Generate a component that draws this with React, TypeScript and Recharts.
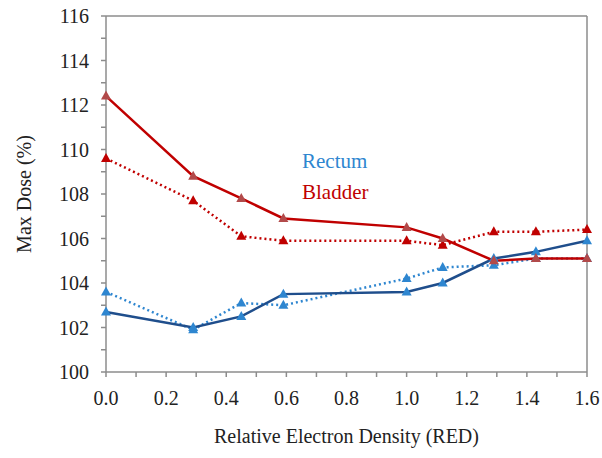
import { LineChart, Line, XAxis, YAxis, ReferenceLine, Label } from "recharts";

// relative electron density of each test insert
const redValues = [0, 0.29, 0.45, 0.59, 1.0, 1.12, 1.29, 1.43, 1.6];
const bladderSolid = [112.4, 108.8, 107.8, 106.9, 106.5, 106.0, 105.0, 105.1, 105.1];
const bladderDotted = [109.6, 107.7, 106.1, 105.9, 105.9, 105.7, 106.3, 106.3, 106.4];
const rectumSolid = [102.7, 102.0, 102.5, 103.5, 103.6, 104.0, 105.1, 105.4, 105.9];
const rectumDotted = [103.6, 101.9, 103.1, 103.0, 104.2, 104.7, 104.8, 105.1, 105.1];

const xTicks = [0, 0.1, 0.2, 0.3, 0.4, 0.5, 0.6, 0.7, 0.8, 0.9, 1.0, 1.1, 1.2, 1.3, 1.4, 1.5, 1.6];
const yTicks = [100, 101, 102, 103, 104, 105, 106, 107, 108, 109, 110, 111, 112, 113, 114, 115, 116];

const data = redValues.map((x, i) => ({
  x,
  bladderSolid: bladderSolid[i],
  bladderDotted: bladderDotted[i],
  rectumSolid: rectumSolid[i],
  rectumDotted: rectumDotted[i],
}));

const font = "'Liberation Serif', 'Times New Roman', serif";
const axisColor = "#8c8c8c";

const triangle = (fill: string) => (props: any) => {
  const { cx, cy, index } = props;
  if (cx == null || cy == null) return <g key={index} />;
  return (
    <path
      key={index}
      d={`M${cx},${cy - 5.5} L${cx + 5},${cy + 3.5} L${cx - 5},${cy + 3.5} Z`}
      fill={fill}
    />
  );
};

const tickStyle = { fontFamily: font, fontSize: 20, fill: "#222" };

export default function App() {
  return (
    <div style={{ position: "absolute", left: 0, top: 0, width: 602, height: 458, background: "#fff" }}>
      <LineChart
        width={602}
        height={458}
        data={data}
        margin={{ top: 16, right: 15, bottom: 0, left: 0 }}
      >
        <XAxis
          dataKey="x"
          type="number"
          domain={[0, 1.6]}
          ticks={xTicks}
          interval={0}
          tickFormatter={(v: number) => (Math.round(v * 10) % 2 === 0 ? v.toFixed(1) : "")}
          height={86}
          stroke={axisColor}
          strokeWidth={1.5}
          tickSize={5}
          tickMargin={14}
          tick={tickStyle}
        >
          <Label
            value="Relative Electron Density (RED)"
            position="insideBottom"
            offset={15}
            style={{ fontFamily: font, fontSize: 20, fill: "#222" }}
          />
        </XAxis>
        <YAxis
          type="number"
          domain={[100, 116]}
          ticks={yTicks}
          interval={0}
          tickFormatter={(v: number) => (v % 2 === 0 ? String(v) : "")}
          width={106}
          stroke={axisColor}
          strokeWidth={1.5}
          tickSize={5}
          tickMargin={12}
          tick={tickStyle}
        >
          <Label
            value="Max Dose (%)"
            angle={-90}
            position="insideLeft"
            offset={24}
            style={{ fontFamily: font, fontSize: 20, fill: "#222", textAnchor: "middle" }}
          />
        </YAxis>
        <ReferenceLine y={116} stroke={axisColor} strokeWidth={1.5} />
        <ReferenceLine x={1.6} stroke={axisColor} strokeWidth={1.5} />
        <Line
          dataKey="rectumDotted"
          stroke="#2e86d0"
          strokeWidth={2.5}
          strokeDasharray="2 3"
          dot={triangle("#2e86d0")}
          isAnimationActive={false}
        />
        <Line
          dataKey="rectumSolid"
          stroke="#1f4e8c"
          strokeWidth={2.5}
          dot={triangle("#2e86d0")}
          isAnimationActive={false}
        />
        <Line
          dataKey="bladderDotted"
          stroke="#c00000"
          strokeWidth={2.5}
          strokeDasharray="2 3"
          dot={triangle("#c00000")}
          isAnimationActive={false}
        />
        <Line
          dataKey="bladderSolid"
          stroke="#c00000"
          strokeWidth={2.5}
          dot={triangle("#b24a4a")}
          isAnimationActive={false}
        />
      </LineChart>
      <div style={{ position: "absolute", left: 302, top: 148, fontFamily: font, fontSize: 21, color: "#2e86d0", lineHeight: "26px" }}>
        Rectum
      </div>
      <div style={{ position: "absolute", left: 302, top: 179, fontFamily: font, fontSize: 21, color: "#c00000", lineHeight: "26px" }}>
        Bladder
      </div>
    </div>
  );
}
